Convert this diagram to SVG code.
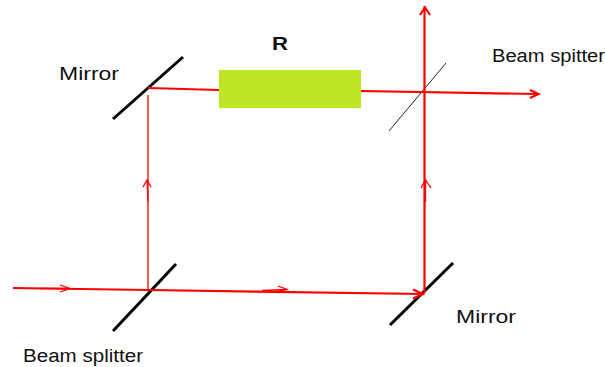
<svg xmlns="http://www.w3.org/2000/svg" width="605" height="367" viewBox="0 0 605 367">
<style>
text{font-family:"Liberation Sans",Arial,sans-serif;font-size:18px;fill:#111}
.m{stroke:#000;stroke-width:3;fill:none}
.b{stroke:#f00;stroke-width:2.2;fill:none}
.t{stroke:#f00;stroke-width:1.3;fill:none}
</style>
<rect width="605" height="367" fill="#fff"/>
<g id="mirror-top-left"><line class="m" x1="113" y1="119" x2="183" y2="57"/><text x="59" y="80" textLength="60" lengthAdjust="spacingAndGlyphs">Mirror</text></g>
<g id="mirror-bottom-right"><line class="m" x1="390" y1="325" x2="453" y2="263"/><text x="456" y="323" textLength="60" lengthAdjust="spacingAndGlyphs">Mirror</text></g>
<g id="splitter-bottom-left"><line class="m" x1="113" y1="331" x2="176" y2="264"/><text x="23" y="362" textLength="120" lengthAdjust="spacingAndGlyphs">Beam splitter</text></g>
<g id="splitter-top-right"><line x1="389" y1="131" x2="446" y2="63" stroke="#222" stroke-width="1"/><text x="492" y="62" textLength="113" lengthAdjust="spacingAndGlyphs">Beam spitter</text></g>
<g id="sample-R"><rect x="219" y="70" width="142" height="38" fill="#bde625"/><text x="272" y="50" font-weight="bold" textLength="16" lengthAdjust="spacingAndGlyphs">R</text></g>
<g id="connectors">
<path class="b" d="M13 288L149 290L424 294"/>
<path class="t" d="M60 285L70 288.500L60 292M40 288.500H70"/>
<path class="t" d="M278 286L287 289.500L278 292M262 290.500L287 289.500"/>
<path class="b" d="M413 289.500L423 294L413 298.500"/>
<path class="t" d="M148 290V95"/>
<path class="t" d="M143 187L147 180L151 187M147 180L148 202" />
<path class="b" d="M424.500 293V6"/>
<path class="b" d="M420 15L425 7.500L430 15"/>
<path class="t" d="M421 188L425.500 180L431 188M425.500 180V202"/>
<path class="b" d="M148 88L219 90"/>
<path class="b" d="M361 91L538 94"/>
<path class="b" d="M530 90L538.500 94L530 98"/>
</g>
</svg>
